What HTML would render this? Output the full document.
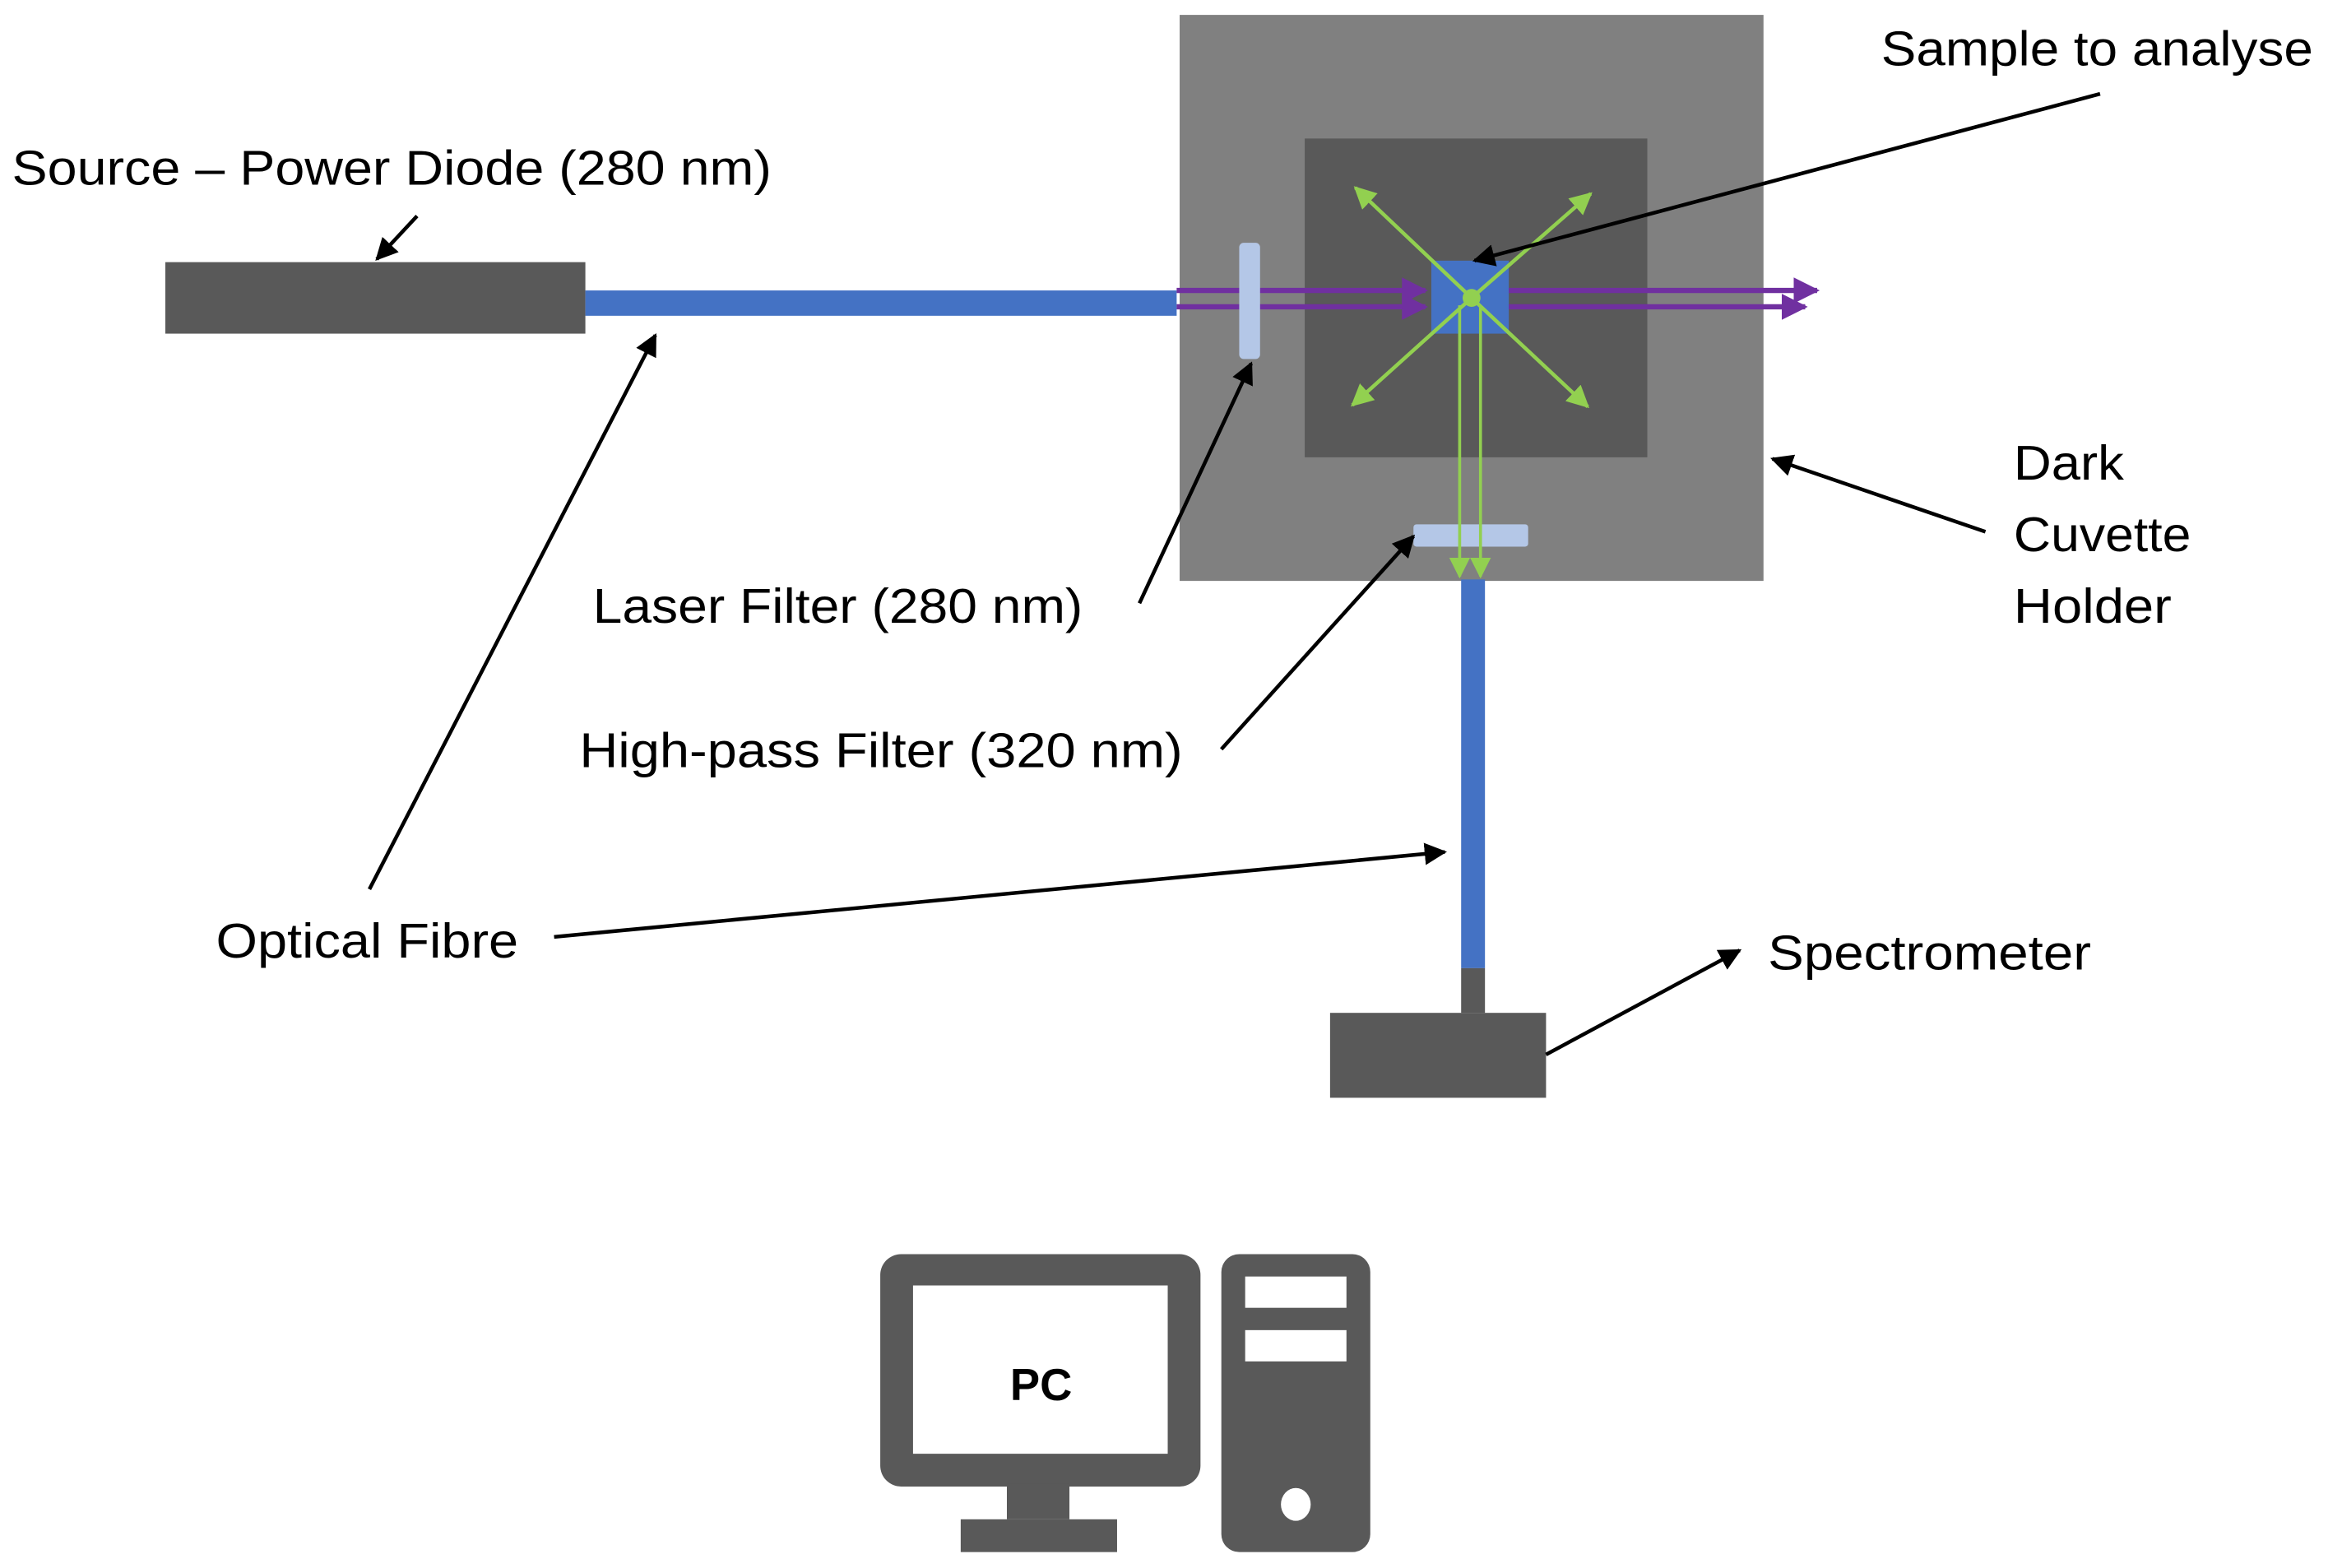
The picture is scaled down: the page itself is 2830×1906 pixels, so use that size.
<!DOCTYPE html>
<html><head><meta charset="utf-8"><style>html,body{margin:0;padding:0;background:#fff}svg{display:block}</style></head>
<body>
<svg width="2830" height="1906" viewBox="0 0 1563 1052.7" xmlns="http://www.w3.org/2000/svg" font-family="'Liberation Sans', sans-serif">
<defs>
<marker id="ab" viewBox="0 0 10 10" refX="9" refY="5" markerWidth="6" markerHeight="6" orient="auto" markerUnits="strokeWidth"><path d="M0,0 L10,5 L0,10 z" fill="#000"/></marker>
<marker id="ag" viewBox="0 0 10 10" refX="9" refY="5" markerWidth="6" markerHeight="6" orient="auto" markerUnits="strokeWidth"><path d="M0,0 L10,5 L0,10 z" fill="#92D050"/></marker>
<marker id="ag2" viewBox="0 0 10 10" refX="9" refY="5" markerWidth="7" markerHeight="7" orient="auto" markerUnits="strokeWidth"><path d="M0,0 L10,5 L0,10 z" fill="#92D050"/></marker>
<marker id="ap" viewBox="0 0 10 10" refX="9" refY="5" markerWidth="5" markerHeight="5" orient="auto" markerUnits="strokeWidth"><path d="M0,0 L10,5 L0,10 z" fill="#7030A0"/></marker>
</defs>
<rect x="792" y="10" width="392" height="380" fill="#808080"/>
<rect x="876" y="93" width="230" height="214" fill="#595959"/>
<rect x="111" y="176" width="282" height="48" fill="#595959"/>
<rect x="393" y="195" width="397" height="17" fill="#4472C4"/>
<rect x="961" y="175" width="52" height="49" fill="#4472C4"/>
<line x1="790" y1="195" x2="957" y2="195" stroke="#7030A0" stroke-width="3.5" marker-end="url(#ap)"/>
<line x1="790" y1="206" x2="957" y2="206" stroke="#7030A0" stroke-width="3.5" marker-end="url(#ap)"/>
<line x1="1013" y1="195" x2="1220" y2="195" stroke="#7030A0" stroke-width="3.5" marker-end="url(#ap)"/>
<line x1="1013" y1="206" x2="1212" y2="206" stroke="#7030A0" stroke-width="3.5" marker-end="url(#ap)"/>
<rect x="832" y="163" width="14" height="78" rx="3" fill="#B4C7E7"/>
<g stroke="#92D050" stroke-width="2.5">
<line x1="988" y1="200" x2="910" y2="126" marker-end="url(#ag)"/>
<line x1="988" y1="200" x2="1068" y2="130" marker-end="url(#ag)"/>
<line x1="988" y1="200" x2="908" y2="272" marker-end="url(#ag)"/>
<line x1="988" y1="200" x2="1066" y2="273" marker-end="url(#ag)"/>
</g>
<rect x="949" y="352" width="77" height="15" rx="2" fill="#B4C7E7"/>
<g stroke="#92D050" stroke-width="2">
<line x1="980" y1="205" x2="980" y2="387" marker-end="url(#ag2)"/>
<line x1="994" y1="205" x2="994" y2="387" marker-end="url(#ag2)"/>
</g>
<circle cx="988" cy="200" r="6" fill="#92D050"/>
<rect x="981" y="389" width="16" height="261" fill="#4472C4"/>
<rect x="981" y="650" width="16" height="30" fill="#595959"/>
<rect x="893" y="680" width="145" height="57" fill="#595959"/>
<rect x="591" y="842" width="215" height="156" rx="14" fill="#595959"/>
<rect x="613" y="863" width="171" height="113" fill="#fff"/>
<rect x="676" y="996" width="42" height="24" fill="#595959"/>
<rect x="645" y="1020" width="105" height="22" fill="#595959"/>
<rect x="820" y="842" width="100" height="200" rx="12" fill="#595959"/>
<rect x="836" y="857" width="68" height="21" fill="#fff"/>
<rect x="836" y="893" width="68" height="21" fill="#fff"/>
<ellipse cx="870" cy="1010" rx="10" ry="11" fill="#fff"/>
<text x="699" y="940" font-size="30" font-weight="bold" text-anchor="middle">PC</text>
<g stroke="#000" stroke-width="2.5" fill="none">
<line x1="280" y1="145" x2="253" y2="174" marker-end="url(#ab)"/>
<line x1="1410" y1="63" x2="990" y2="175" marker-end="url(#ab)"/>
<line x1="248" y1="597" x2="440" y2="225" marker-end="url(#ab)"/>
<line x1="765" y1="405" x2="840" y2="244" marker-end="url(#ab)"/>
<line x1="1333" y1="357" x2="1190" y2="308" marker-end="url(#ab)"/>
<line x1="820" y1="503" x2="949" y2="360" marker-end="url(#ab)"/>
<line x1="372" y1="629" x2="970" y2="572" marker-end="url(#ab)"/>
<line x1="1038" y1="708" x2="1168" y2="638" marker-end="url(#ab)"/>
</g>
<g font-size="33" fill="#000">
<text x="1263" y="44" textLength="290" lengthAdjust="spacingAndGlyphs">Sample to analyse</text>
<text x="8" y="124" textLength="510" lengthAdjust="spacingAndGlyphs">Source – Power Diode (280 nm)</text>
<text x="1352" y="322" textLength="74" lengthAdjust="spacingAndGlyphs">Dark</text>
<text x="1352" y="370" textLength="119" lengthAdjust="spacingAndGlyphs">Cuvette</text>
<text x="1352" y="418" textLength="106" lengthAdjust="spacingAndGlyphs">Holder</text>
<text x="398" y="418" textLength="329" lengthAdjust="spacingAndGlyphs">Laser Filter (280 nm)</text>
<text x="389" y="515" textLength="405" lengthAdjust="spacingAndGlyphs">High-pass Filter (320 nm)</text>
<text x="145" y="643" textLength="203" lengthAdjust="spacingAndGlyphs">Optical Fibre</text>
<text x="1187" y="651" textLength="217" lengthAdjust="spacingAndGlyphs">Spectrometer</text>
</g>
</svg>
</body></html>
